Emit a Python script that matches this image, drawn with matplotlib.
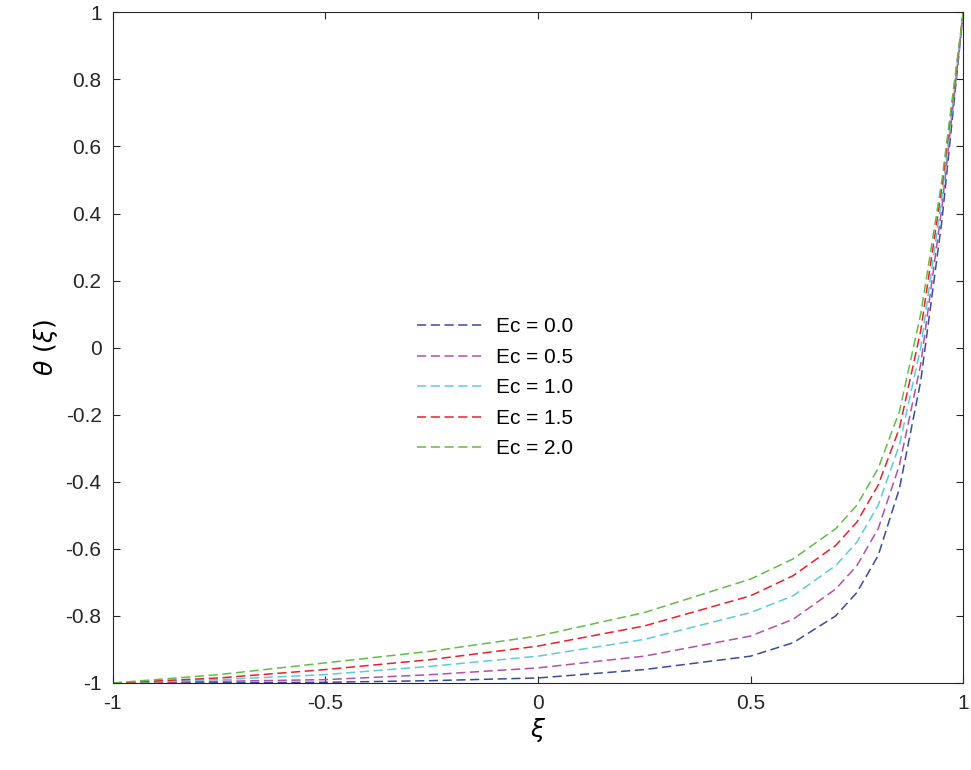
import matplotlib.pyplot as plt
import numpy as np

plt.rcParams['font.family'] = ['Liberation Sans', 'DejaVu Sans']

xi = [-1, -0.75, -0.5, -0.25, 0, 0.25, 0.5, 0.6, 0.7, 0.75, 0.8, 0.85, 0.9, 0.95, 1]
th_00 = [-1, -0.999, -0.998, -0.993, -0.985, -0.96, -0.92, -0.88, -0.80, -0.73, -0.62, -0.42, -0.10, 0.38, 1]
th_05 = [-1, -0.995, -0.99, -0.975, -0.955, -0.92, -0.86, -0.81, -0.72, -0.65, -0.54, -0.35, -0.05, 0.42, 1]
th_10 = [-1, -0.99, -0.975, -0.95, -0.92, -0.87, -0.79, -0.74, -0.65, -0.58, -0.47, -0.29, 0.0, 0.45, 1]
th_15 = [-1, -0.985, -0.96, -0.93, -0.89, -0.83, -0.74, -0.68, -0.59, -0.52, -0.41, -0.24, 0.05, 0.48, 1]
th_20 = [-1, -0.975, -0.94, -0.905, -0.86, -0.79, -0.69, -0.63, -0.54, -0.47, -0.36, -0.19, 0.10, 0.50, 1]

series = [th_00, th_05, th_10, th_15, th_20]
labels = ['Ec = 0.0', 'Ec = 0.5', 'Ec = 1.0', 'Ec = 1.5', 'Ec = 2.0']
colors = ['#3a4a9e', '#b44fa8', '#5ccbd9', '#e8202a', '#62bd44']
xticks = [-1, -0.5, 0, 0.5, 1]
xticklabels = ['-1', '-0.5', '0', '0.5', '1']
yticks = [-1, -0.8, -0.6, -0.4, -0.2, 0, 0.2, 0.4, 0.6, 0.8, 1]
yticklabels = ['-1', '-0.8', '-0.6', '-0.4', '-0.2', '0', '0.2', '0.4', '0.6', '0.8', '1']

fig = plt.figure(figsize=(9.71, 7.7), dpi=100)
ax = fig.add_axes([0.116, 0.113, 0.876, 0.871])
for y, lab, c in zip(series, labels, colors):
    ax.plot(xi, y, '--', color=c, lw=1.1, dashes=(6, 3), label=lab)

ax.set_xlim(-1, 1)
ax.set_ylim(-1, 1)
ax.set_xticks(xticks)
ax.set_xticklabels(xticklabels)
ax.set_yticks(yticks)
ax.set_yticklabels(yticklabels)
ax.tick_params(direction='in', top=True, right=True, labelsize=15, colors='#262626',
               length=5, pad=8)
for s in ax.spines.values():
    s.set_color('#262626')
    s.set_linewidth(0.8)
ax.set_xlabel(r'$\xi$', fontsize=18, labelpad=2)
ax.set_ylabel(r'$\theta\ (\xi)$', fontsize=18)
ax.legend(loc='center', bbox_to_anchor=(0.45, 0.44), frameon=False, fontsize=15,
          handlelength=3.2, labelspacing=0.55, handletextpad=0.6)
fig.savefig('out.png', dpi=100)
